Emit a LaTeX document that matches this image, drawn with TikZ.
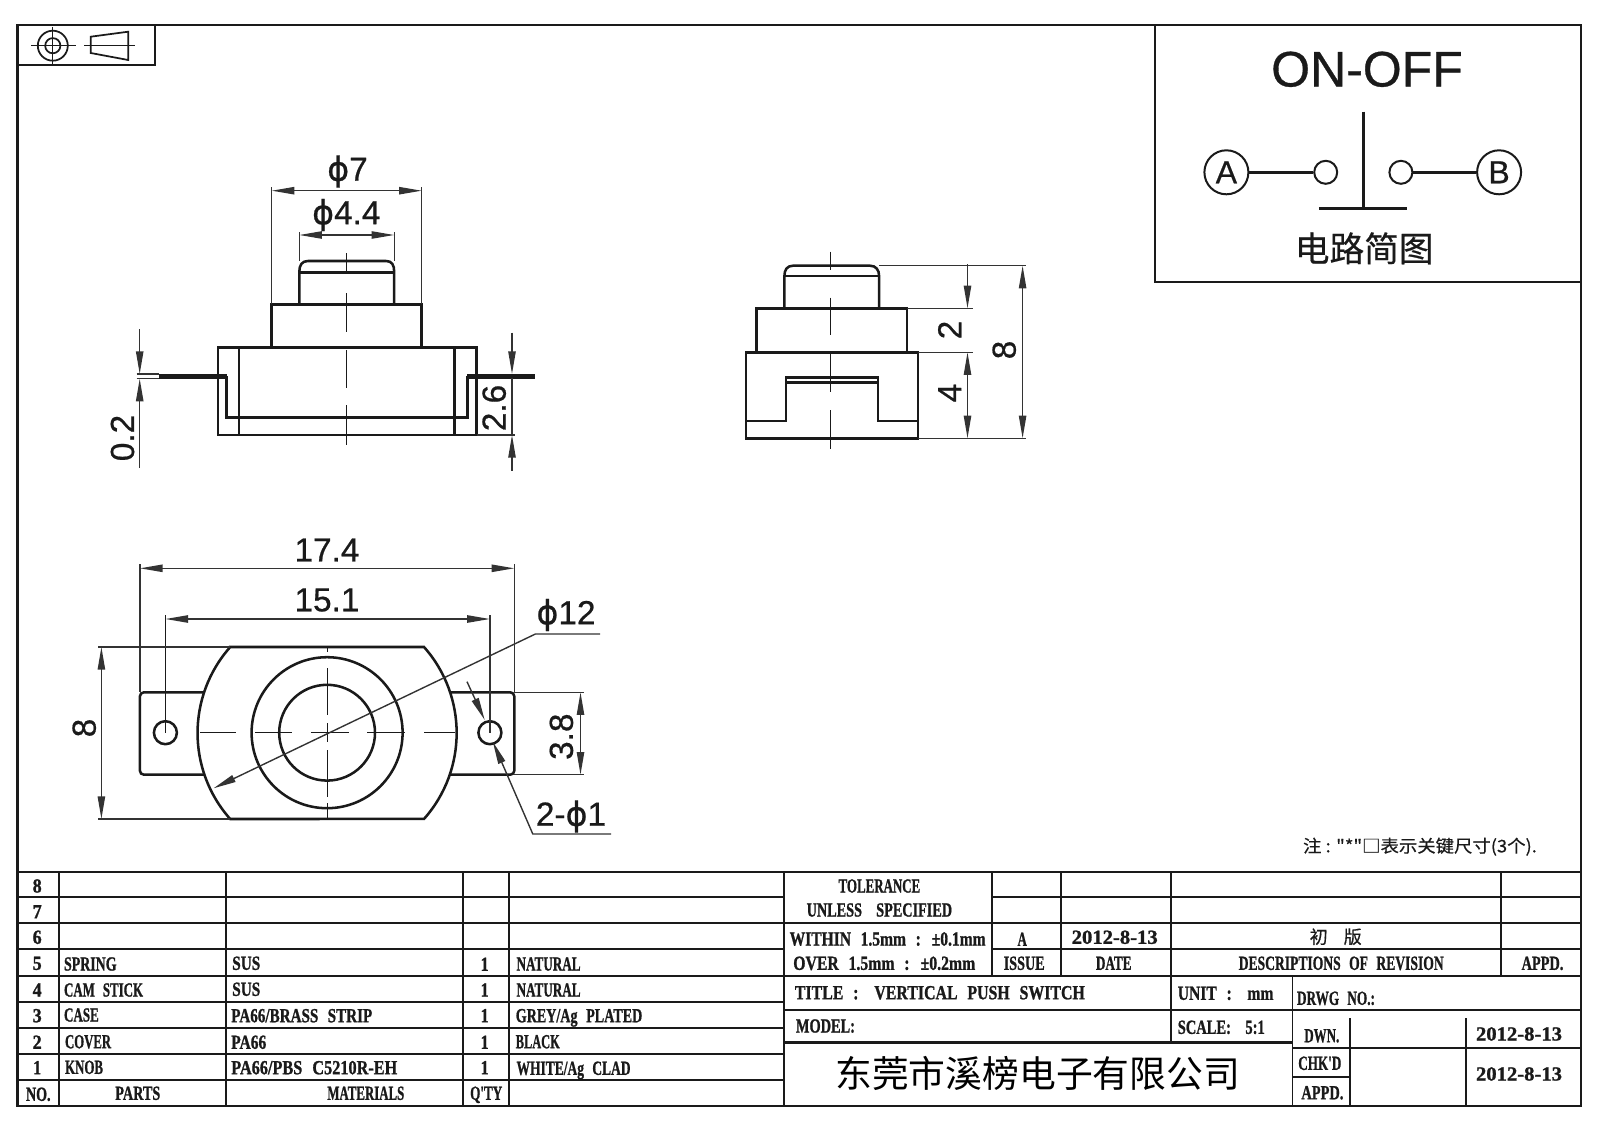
\documentclass[tikz,border=0pt]{standalone}
\usepackage{graphicx}
\usepackage{fontspec}
\usetikzlibrary{arrows.meta}
\setmainfont{Liberation Sans}[FakeBold=0.6]
\newfontfamily\tabf{Liberation Serif}[BoldFeatures={FakeBold=1.2}]
\newfontfamily\cjk{Noto Sans CJK SC}[FakeBold=0.5]
\newfontfamily\cjkplain{Noto Sans CJK SC}
\newfontfamily\djv{DejaVu Sans}[FakeBold=0.6]
\newcommand{\phid}{{\djv\char"03D5}}
\newsavebox\fwbox
\newlength\fwl
\newcommand{\FW}[2]{\sbox\fwbox{\tabf\bfseries\fontsize{15}{18}\selectfont\spaceskip=0.62em\relax #2}\setlength\fwl{\wd\fwbox}\pgfmathsetmacro\fwr{#1*0.75/\fwl}\scalebox{\fwr}[1]{\usebox\fwbox}}
\newcommand{\FC}[2]{\sbox\fwbox{\cjk\fontsize{13}{16}\selectfont #2}\setlength\fwl{\wd\fwbox}\pgfmathsetmacro\fwr{#1*0.75/\fwl}\scalebox{\fwr}[1]{\usebox\fwbox}}
\definecolor{ink}{HTML}{1A1A1A}
\definecolor{dimc}{HTML}{333333}
\tikzset{
 frameline/.style={draw=ink,line width=1.8pt},
 tabline/.style={draw=ink,line width=1.4pt},
 heavy/.style={draw=ink,line width=2pt},
 part/.style={draw=ink,line width=1.9pt,line join=miter},
 thin part/.style={draw=ink,line width=1.3pt},
 dimline/.style={draw=dimc,line width=1.05pt},
 cl/.style={draw=ink,line width=0.8pt},
 tipa/.tip={Stealth[length=17pt,width=5.5pt,inset=0pt]},
 dimt/.style={inner sep=0,font=\fontsize{25}{30}\selectfont,text=ink},
 tb/.style={inner sep=0,yshift=-4.9pt,text=ink},
}
\begin{document}
\begin{tikzpicture}[x=0.75pt,y=-0.75pt]
\useasboundingbox (0,0) rectangle (1600,1131);
% frame
\draw[frameline] (17.6,24.8) rectangle (1581,1106);
% projection symbol
\draw[tabline] (17.6,65.3) -- (154.6,65.3) -- (154.6,24.8);
\draw[thin part] (52.8,45.7) circle[radius=15] (52.8,45.7) circle[radius=7.6];
\draw[cl] (31.4,45.7) -- (75.8,45.7) (52.8,27) -- (52.8,66);
\draw[thin part] (90.7,36.7) -- (128.2,31.7) -- (128.2,60) -- (90.7,53) -- cycle;
\draw[cl] (84.2,45.7) -- (134.7,45.7);
% circuit box
\draw[tabline] (1154.7,24.8) -- (1154.7,281.7) -- (1581,281.7);
\node[inner sep=0,font=\fontsize{37.5}{44}\selectfont,text=ink] (onoff) at (1367,69.3) {ON-OFF};
\node[circle,draw=ink,line width=1.5pt,minimum size=44*0.75pt,inner sep=0,font=\fontsize{24}{28}\selectfont,text=ink] (a) at (1226.4,172.3) {A};
\node[circle,draw=ink,line width=1.5pt,minimum size=44*0.75pt,inner sep=0,font=\fontsize{24}{28}\selectfont,text=ink] (b) at (1499.1,172.3) {B};
\node[circle,draw=ink,line width=1.5pt,minimum size=23*0.75pt,inner sep=0] (c1) at (1325.7,172.3) {};
\node[circle,draw=ink,line width=1.5pt,minimum size=23*0.75pt,inner sep=0] (c2) at (1400.9,172.3) {};
\draw[part] (a) -- (c1);
\draw[part] (c2) -- (b);
\draw[part] (1363.6,111.7) -- (1363.6,208.3);
\draw[part] (1318.8,208.3) -- (1407.2,208.3);
\node[inner sep=0,font=\cjk\fontsize{26}{30}\selectfont,text=ink] (circ) at (1364.2,248.3) {电路简图};
% front view
\draw[part] (299.3,304.3) -- (299.3,272) .. controls (299.3,265) and (302,261) .. (308,261) -- (386,261) .. controls (392,261) and (394.2,265) .. (394.2,272) -- (394.2,304.3);
\draw[part] (299.3,272.7) -- (394.2,272.7);
\draw[part] (271.7,347.7) -- (271.7,304.3) -- (421.7,304.3) -- (421.7,347.7);
\draw[part] (218,347.7) rectangle (476.5,435);
\draw[part] (239.2,347.7) -- (239.2,435) (454.6,347.7) -- (454.6,435);
\draw[part] (226.6,376) -- (226.6,417.3) -- (467.7,417.3) -- (467.7,376);
\fill[ink] (158.8,374) rectangle (226.6,378.7);
\fill[ink] (466.9,374) rectangle (535,378.7);
\draw[cl] (346.7,253) -- (346.7,273) (346.7,293) -- (346.7,332) (346.7,350) -- (346.7,388) (346.7,405) -- (346.7,445);
\draw[dimline] (271.7,187) -- (271.7,304.3) (421.7,187) -- (421.7,304.3);
\draw[dimline,tipa-tipa] (271.7,190.7) -- (421.7,190.7);
\node[dimt] (d7) at (347.5,171.5) {\phid 7};
\draw[dimline] (299.3,232) -- (299.3,261) (394.2,232) -- (394.2,261);
\draw[dimline,tipa-tipa] (299.3,235) -- (394.2,235);
\node[dimt] (d44) at (346.3,215) {\phid 4.4};
\draw[dimline,-tipa] (139.7,329.3) -- (139.7,374);
\draw[dimline,-tipa] (139.7,468) -- (139.7,378.7);
\draw[dimline] (136.6,374) -- (158.8,374) (136.6,378.7) -- (158.8,378.7);
\node[dimt,rotate=90] (d02) at (122.5,438) {0.2};
\draw[dimline,-tipa] (512,332.7) -- (512,374);
\draw[dimline,-tipa] (512,470.7) -- (512,435);
\draw[dimline] (512,378) -- (512,435) (476.5,435) -- (515,435);
\node[dimt,rotate=90] (d26) at (494.2,408) {2.6};
% side view
\draw[part] (784.4,308.3) -- (784.4,276) .. controls (784.4,270) and (787,265.7) .. (793,265.7) -- (870,265.7) .. controls (876,265.7) and (879.1,270) .. (879.1,276) -- (879.1,308.3);
\draw[part] (784.4,276) -- (879.1,276);
\draw[part] (756.3,352.3) -- (756.3,308.3) -- (907.2,308.3) -- (907.2,352.3);
\draw[part] (745.9,352.3) rectangle (918.1,438.3);
\draw[part] (745.9,421) -- (786.1,421) -- (786.1,377.7) -- (878,377.7) -- (878,421) -- (918.1,421);
\draw[part] (786.1,382.7) -- (878,382.7);
\draw[cl] (830.9,251.7) -- (830.9,270) (830.9,297.7) -- (830.9,335) (830.9,353) -- (830.9,391.7) (830.9,410) -- (830.9,449);
\draw[dimline] (879.1,265.7) -- (1025.5,265.7) (907.2,308.3) -- (972.7,308.3) (918.1,352.3) -- (972.7,352.3) (918.1,438.3) -- (1025.5,438.3);
\draw[dimline,-tipa] (967.5,264) -- (967.5,308.3);
\draw[dimline,tipa-tipa] (967.5,352.3) -- (967.5,438.3);
\draw[dimline,tipa-tipa] (1022.6,265.7) -- (1022.6,438.3);
\node[dimt,rotate=90] (s2) at (949.7,330) {2};
\node[dimt,rotate=90] (s4) at (949.7,393) {4};
\node[dimt,rotate=90] (s8) at (1004.2,350) {8};
% top view
\draw[part,rounded corners=3pt] (204,692.3) -- (139.9,692.3) -- (139.9,774.7) -- (204,774.7);
\draw[part,rounded corners=3pt] (450,692.3) -- (514.3,692.3) -- (514.3,774.7) -- (450,774.7);
\draw[part] (230.2,647) -- (424,647) arc[start angle=-41.6,end angle=41.6,radius=129.5] -- (230.2,819) arc[start angle=138.4,end angle=221.6,radius=129.5] -- cycle;
\draw[part] (327.1,732.7) circle[radius=75.5] (327.1,732.7) circle[radius=47.9];
\draw[part] (165.4,732.7) circle[radius=11.5] (489.9,732.7) circle[radius=11.5];
\draw[cl] (199.8,732.7) -- (235.7,732.7) (255,732.7) -- (292.3,732.7) (310.8,732.7) -- (348.6,732.7) (367,732.7) -- (405,732.7) (424.4,732.7) -- (455,732.7);
\draw[cl] (327.1,647) -- (327.1,652) (327.1,668) -- (327.1,715) (327.1,723) -- (327.1,742) (327.1,750) -- (327.1,797) (327.1,803) -- (327.1,819);
\draw[dimline] (139.9,564) -- (139.9,692.3) (514.3,564) -- (514.3,692.3);
\draw[dimline,tipa-tipa] (139.9,568.3) -- (514.3,568.3);
\node[dimt] (t174) at (327,550) {17.4};
\draw[part,line width=1.1pt] (165.4,615) -- (165.4,732.7);
\draw[dimline] (489.9,615) -- (489.9,732.7);
\draw[dimline,tipa-tipa] (165.4,619) -- (489.9,619);
\node[dimt] (t151) at (327,600) {15.1};
\draw[dimline] (98,647) -- (230.2,647) (98,819) -- (230.2,819);
\draw[dimline,tipa-tipa] (101.4,647) -- (101.4,819);
\node[dimt,rotate=90] (t8) at (84.2,728) {8};
\draw[dimline] (514.3,692.3) -- (583.5,692.3) (514.3,774.7) -- (583.5,774.7);
\draw[dimline,tipa-tipa] (580.5,692.3) -- (580.5,774.7);
\node[dimt,rotate=90] (t38) at (561.4,736.7) {3.8};
\draw[dimline,-tipa] (600,634) -- (535.4,634) -- (213.5,788.3);
\node[dimt] (t12) at (566,615) {\phid 12};
\draw[dimline,-tipa] (611,834) -- (532.8,834) -- (492.8,741.7);
\draw[dimline,-tipa] (467,681.7) -- (484.7,720);
\node[dimt] (t21) at (571,816.5) {2-\phid 1};
% note
\node[inner sep=0,text=ink] (note) at (1420,846.7) {\FC{233.8}{注 : "*"□表示关键尺寸(3个).}};
% table: horizontal rules
\foreach \y in {871.7,897.3,923.3,949.3,975.7,1001.7,1027.7,1053.7,1080} \draw[tabline] (17.6,\y) -- (784.2,\y);
\foreach \x in {58.7,226,463.3,509.2,784.2} \draw[tabline] (\x,871.7) -- (\x,1106);
\draw[tabline] (784.2,871.7) -- (1581,871.7);
\draw[tabline] (991.8,897.3) -- (1581,897.3);
\draw[tabline] (784.2,923.3) -- (1581,923.3);
\draw[tabline] (991.8,949.3) -- (1581,949.3);
\draw[tabline] (784.2,975.7) -- (1581,975.7);
\draw[tabline] (784.2,1010) -- (1581,1010);
\draw[heavy] (784.2,1042.3) -- (1292.5,1042.3);
\draw[tabline] (1292.5,1048.3) -- (1581,1048.3);
\draw[tabline] (1292.5,1077.3) -- (1350,1077.3);
\foreach \x in {991.8,1060.9,1500.7} \draw[tabline] (\x,871.7) -- (\x,975.7);
\draw[tabline] (1170.7,871.7) -- (1170.7,1042.3);
\draw[tabline] (1292.5,975.7) -- (1292.5,1106);
\draw[tabline] (1350,1018) -- (1350,1106);
\draw[tabline] (1466.2,1018) -- (1466.2,1106);
\draw[heavy] (17.6,1106) -- (1581,1106);
% parts list
\node[tb,anchor=base] (r8) at (37.2,886) {\FW{9}{8}};
\node[tb,anchor=base] (r7) at (37.2,911.7) {\FW{9}{7}};
\node[tb,anchor=base] (r6) at (37.2,937.3) {\FW{9}{6}};
\node[tb,anchor=base] (r5) at (37.2,963.3) {\FW{9}{5}};
\node[tb,anchor=base] (r4) at (37.2,990) {\FW{9}{4}};
\node[tb,anchor=base] (r3) at (37.2,1015.7) {\FW{9}{3}};
\node[tb,anchor=base] (r2) at (37.2,1042.3) {\FW{9}{2}};
\node[tb,anchor=base] (r1) at (37.2,1067.7) {\FW{8}{1}};
\node[tb,anchor=base] (no) at (38.3,1094.3) {\FW{24.5}{NO.}};
\node[tb,anchor=base west] (p5) at (63.8,964) {\FW{52.5}{SPRING}};
\node[tb,anchor=base west] (p4) at (63.8,990) {\FW{79}{CAM STICK}};
\node[tb,anchor=base west] (p3) at (63.8,1015) {\FW{34.7}{CASE}};
\node[tb,anchor=base west] (p2) at (64.8,1041.7) {\FW{46}{COVER}};
\node[tb,anchor=base west] (p1) at (64.8,1067.3) {\FW{38}{KNOB}};
\node[tb,anchor=base] (ph) at (137.8,1093.3) {\FW{45}{PARTS}};
\node[tb,anchor=base west] (m5) at (232,963.3) {\FW{28}{SUS}};
\node[tb,anchor=base west] (m4) at (232,989.3) {\FW{28}{SUS}};
\node[tb,anchor=base west] (m3) at (231,1015.7) {\FW{141}{PA66/BRASS STRIP}};
\node[tb,anchor=base west] (m2) at (231,1042.3) {\FW{35}{PA66}};
\node[tb,anchor=base west] (m1) at (231,1067.7) {\FW{166}{PA66/PBS C5210R-EH}};
\node[tb,anchor=base] (mh) at (365.8,1093.3) {\FW{77}{MATERIALS}};
\node[tb,anchor=base] (q5) at (484.7,964.3) {\FW{8}{1}};
\node[tb,anchor=base] (q4) at (484.7,990) {\FW{8}{1}};
\node[tb,anchor=base] (q3) at (484.7,1015.7) {\FW{8}{1}};
\node[tb,anchor=base] (q2) at (484.7,1042.3) {\FW{8}{1}};
\node[tb,anchor=base] (q1) at (484.7,1067.7) {\FW{8}{1}};
\node[tb,anchor=base] (qh) at (486.2,1093.3) {\FW{32}{Q'TY}};
\node[tb,anchor=base west] (c5) at (516.3,964) {\FW{64}{NATURAL}};
\node[tb,anchor=base west] (c4) at (516.3,990) {\FW{64}{NATURAL}};
\node[tb,anchor=base west] (c3) at (515.5,1015.7) {\FW{126.5}{GREY/Ag PLATED}};
\node[tb,anchor=base west] (c2b) at (515.5,1041.7) {\FW{44}{BLACK}};
\node[tb,anchor=base west] (c1b) at (516.3,1068.3) {\FW{114}{WHITE/Ag CLAD}};
% revision block
\node[tb,anchor=base] (tol) at (879.4,886) {\FW{81.6}{TOLERANCE}};
\node[tb,anchor=base] (unl) at (879.4,910) {\FW{145.4}{UNLESS\quad SPECIFIED}};
\node[tb,anchor=base west] (wit) at (789.4,939) {\FW{196}{WITHIN 1.5mm : ±0.1mm}};
\node[tb,anchor=base west] (ove) at (793,963.3) {\FW{182}{OVER 1.5mm : ±0.2mm}};
\node[tb,anchor=base] (iss) at (1022.2,939.3) {\FW{9.4}{A}};
\node[tb,anchor=base] (dat) at (1114.7,937.3) {\FW{86}{2012-8-13}};
\node[inner sep=0,text=ink,font=\cjk\fontsize{13.5}{16}\selectfont] (chu) at (1318.7,936.7) {初};
\node[inner sep=0,text=ink,font=\cjk\fontsize{13.5}{16}\selectfont] (ban) at (1352.7,936.7) {版};
\node[tb,anchor=base] (ish) at (1024.2,963.3) {\FW{41}{ISSUE}};
\node[tb,anchor=base] (dah) at (1113.7,963.3) {\FW{35.6}{DATE}};
\node[tb,anchor=base] (deh) at (1341.2,963.3) {\FW{205}{DESCRIPTIONS OF REVISION}};
\node[tb,anchor=base] (aph) at (1542.5,963.3) {\FW{41.8}{APPD.}};
% title block
\node[tb,anchor=base west] (tit) at (794.6,992.7) {\FW{290}{TITLE :\quad VERTICAL PUSH SWITCH}};
\node[tb,anchor=base west] (uni) at (1177.5,993.3) {\FW{95.7}{UNIT :\quad mm}};
\node[tb,anchor=base west] (drw) at (1296.7,998.3) {\FW{78}{DRWG NO.:}};
\node[tb,anchor=base west] (mod) at (795.7,1026) {\FW{59}{MODEL:}};
\node[tb,anchor=base west] (sca) at (1177.5,1027.3) {\FW{87}{SCALE:\quad 5:1}};
\node[tb,anchor=base] (dwn) at (1321.8,1035.7) {\FW{35}{DWN.}};
\node[tb,anchor=base] (d1) at (1519,1034) {\FW{86}{2012-8-13}};
\node[tb,anchor=base] (chk) at (1319.8,1063.3) {\FW{43}{CHK'D}};
\node[tb,anchor=base] (app) at (1322.4,1092.7) {\FW{42}{APPD.}};
\node[tb,anchor=base] (d2) at (1519,1074) {\FW{86}{2012-8-13}};
\node[inner sep=0,text=black,font=\cjkplain\fontsize{27.6}{32}\selectfont] (com) at (1037.6,1073.3) {东莞市溪榜电子有限公司};
\end{tikzpicture}
\end{document}
